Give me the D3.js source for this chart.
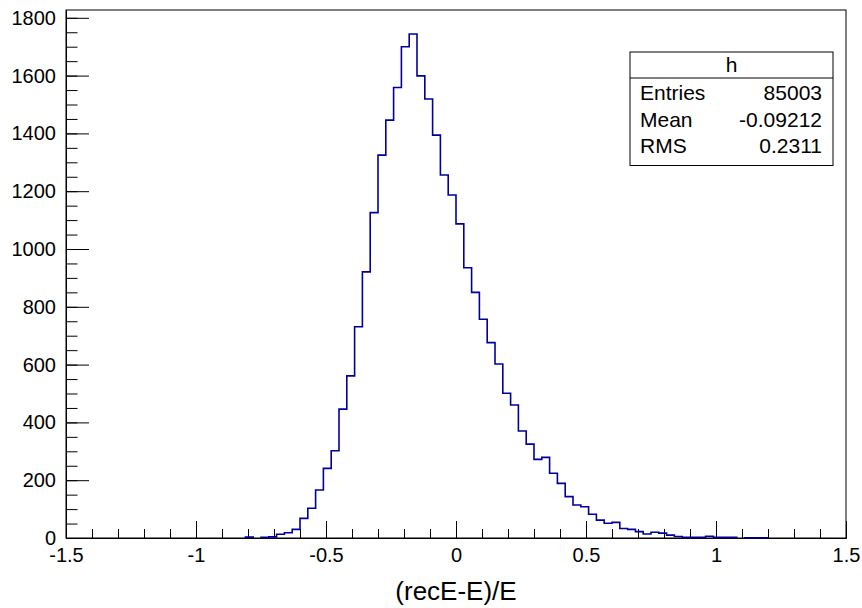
<!DOCTYPE html>
<html>
<head>
<meta charset="utf-8">
<script src="https://cdn.jsdelivr.net/npm/d3@7"></script>
<style>
  body { margin: 0; background: #fff; }
  svg { font-family: "Liberation Sans", Arial, sans-serif; }
</style>
</head>
<body>
<div id="chart"></div>
<script>
// bin lower edges (bin width 0.03) and counts
var binLow = [-0.81,-0.78,-0.75,-0.72,-0.69,-0.66,-0.63,-0.60,-0.57,-0.54,-0.51,-0.48,-0.45,-0.42,-0.39,-0.36,-0.33,-0.30,-0.27,-0.24,-0.21,-0.18,-0.15,-0.12,-0.09,-0.06,-0.03,
  0.00,0.03,0.06,0.09,0.12,0.15,0.18,0.21,0.24,0.27,0.30,0.33,0.36,0.39,0.42,0.45,0.48,0.51,0.54,0.57,0.60,0.63,0.66,0.69,0.72,0.75,0.78,0.81,0.84,0.87,0.90,0.93,0.96,0.99,1.02,1.05,1.08,1.11,1.14,1.17];
var counts = [3,0,2,4,13,18,30,68,103,166,241,302,446,561,731,921,1126,1325,1446,1559,1700,1744,1599,1519,1394,1256,1187,
  1087,935,850,757,676,602,501,460,370,325,272,279,224,189,143,114,108,82,62,51,54,33,30,22,14,20,17,10,5,2,2,2,6,2,2,2,0,1,1,1];
var binWidth = 0.03;

var xMajor = [-1.5,-1,-0.5,0,0.5,1,1.5];
var yMajor = [0,200,400,600,800,1000,1200,1400,1600,1800];

var statsTitle = "h";
var statsRows = [["Entries","85003"],["Mean","-0.09212"],["RMS","0.2311"]];
var xTitle = "(recE-E)/E";

var width = 862, height = 608;
var margin = {left: 66, right: 16, top: 10, bottom: 70};
var w = width - margin.left - margin.right;
var h = height - margin.top - margin.bottom;

var svg = d3.select("#chart").append("svg")
    .attr("width", width)
    .attr("height", height);
var g = svg.append("g")
    .attr("transform", "translate(" + margin.left + "," + margin.top + ")");

var x = d3.scaleLinear().domain([-1.5, 1.5]).range([0, w]);
var y = d3.scaleLinear().domain([0, 1827]).range([h, 0]);

// frame
g.append("rect")
  .attr("width", w).attr("height", h)
  .attr("fill", "none").attr("stroke", "#000").attr("stroke-width", 1);

// histogram outline, broken where bins are empty
var path = d3.path();
var open = false;
binLow.forEach(function(lo, i){
  var c = counts[i];
  if (c > 0) {
    if (!open) { path.moveTo(x(lo), y(0)); open = true; }
    path.lineTo(x(lo), y(c));
    path.lineTo(x(lo + binWidth), y(c));
    var next = counts[i + 1] || 0;
    if (next === 0) { path.lineTo(x(lo + binWidth), y(0)); open = false; }
  }
});

// axes
var xMinor = d3.axisBottom(x).tickValues(d3.range(-1.5, 1.5001, 0.1)).tickSize(-9).tickSizeOuter(0).tickFormat("");
g.append("g").attr("transform", "translate(0," + h + ")").call(xMinor);
var xAxis = d3.axisBottom(x).tickValues(xMajor).tickSize(-17).tickSizeOuter(0).tickPadding(10)
    .tickFormat(function(d){ return String(d); });
var gx = g.append("g").attr("transform", "translate(0," + h + ")").call(xAxis);

var yMinor = d3.axisLeft(y).tickValues(d3.range(0, 1801, 50)).tickSize(-11.5).tickSizeOuter(0).tickFormat("");
g.append("g").call(yMinor);
var yAxis = d3.axisLeft(y).tickValues(yMajor).tickSize(-23).tickSizeOuter(0).tickPadding(10)
    .tickFormat(d3.format("d"));
var gy = g.append("g").call(yAxis);

g.selectAll(".domain").attr("stroke", "#000");
g.selectAll(".tick line").attr("stroke", "#000");
gx.selectAll("text").attr("font-size", 20).attr("fill", "#000").attr("font-family", "Liberation Sans, Arial, sans-serif");
gy.selectAll("text").attr("font-size", 20).attr("fill", "#000").attr("font-family", "Liberation Sans, Arial, sans-serif");

g.append("path")
  .attr("d", path.toString())
  .attr("fill", "none")
  .attr("stroke", "#000099")
  .attr("stroke-width", 1.6);

// x title
svg.append("text")
  .attr("x", margin.left + w / 2)
  .attr("y", 600)
  .attr("text-anchor", "middle")
  .attr("font-size", 26)
  .text(xTitle);

// stats box
var bx = 630, by = 52, bw = 203, hh = 26, rowH = 26.5;
var box = svg.append("g");
box.append("rect")
  .attr("x", bx).attr("y", by)
  .attr("width", bw).attr("height", hh + rowH * statsRows.length + 8)
  .attr("fill", "#fff").attr("stroke", "#000").attr("stroke-width", 1);
box.append("line")
  .attr("x1", bx).attr("x2", bx + bw)
  .attr("y1", by + hh).attr("y2", by + hh)
  .attr("stroke", "#000");
box.append("text")
  .attr("x", bx + bw / 2).attr("y", by + 20)
  .attr("text-anchor", "middle").attr("font-size", 21)
  .text(statsTitle);
statsRows.forEach(function(r, i){
  var yy = by + hh + 22 + i * rowH;
  box.append("text").attr("x", bx + 10).attr("y", yy).attr("font-size", 21).text(r[0]);
  box.append("text").attr("x", bx + bw - 11).attr("y", yy).attr("text-anchor", "end").attr("font-size", 21).text(r[1]);
});
</script>
</body>
</html>
